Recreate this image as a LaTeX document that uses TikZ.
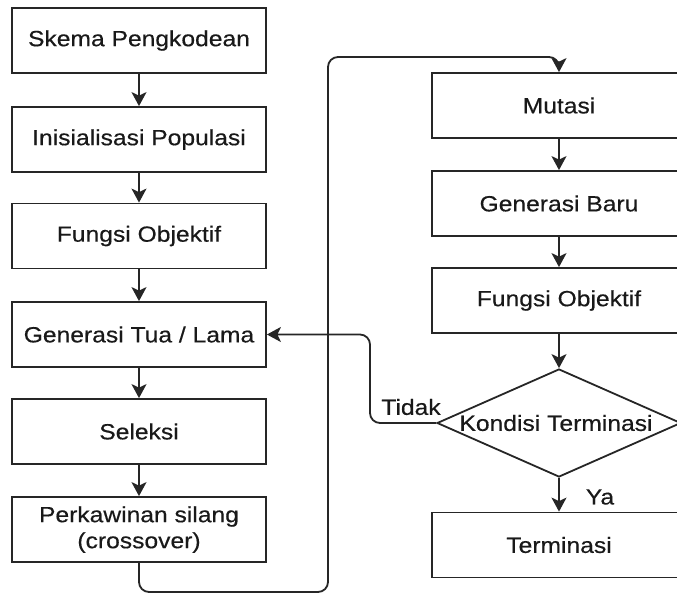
\documentclass[tikz,border=0pt]{standalone}
\usepackage{fontspec}
\setmainfont[FakeStretch=1.12,FakeBold=0.4]{Liberation Sans}
\usetikzlibrary{shapes.geometric,arrows.meta}
\begin{document}
\begin{tikzpicture}[x=1pt,y=-1pt,
  every node/.style={font=\fontsize{22}{26}\selectfont, text=black!90},
  box/.style={draw=black!85, line width=1.8pt, rectangle, minimum width=254pt, minimum height=65pt, inner sep=0pt, align=center, fill=white},
  dia/.style={draw=black!85, line width=1.8pt, diamond, minimum width=244pt, minimum height=108pt, inner sep=0pt, fill=white},
  conn/.style={draw=black!85, line width=1.8pt, -{Stealth[length=14pt,width=15pt,inset=3.5pt]}},
  plain/.style={draw=black!85, line width=1.8pt}]
\useasboundingbox (0,0) rectangle (677,594);
\begin{scope}
\clip (0,0) rectangle (677,594);
% left column
\node[box] (a1) at (139,40.5) {Skema Pengkodean};
\node[box] (a2) at (139,139.5) {Inisialisasi Populasi};
\node[box] (a3) at (139,236) {Fungsi Objektif};
\node[box] (a4) at (139,334.5) {Generasi Tua / Lama};
\node[box] (a5) at (139,431.5) {Seleksi};
\node[box] (a6) at (139,529.5) {Perkawinan silang\\(crossover)};
% right column
\node[box] (b1) at (559,105.5) {Mutasi};
\node[box] (b2) at (559,203.5) {Generasi Baru};
\node[box] (b3) at (559,300.5) {Fungsi Objektif};
\node[dia] (d) at (559,423) {};
\node (dt) at (556,423) {Kondisi Terminasi};
\node[box] (b4) at (559,545) {Terminasi};
% connectors
\draw[conn] (a1.south) -- (a2.north);
\draw[conn] (a2.south) -- (a3.north);
\draw[conn] (a3.south) -- (a4.north);
\draw[conn] (a4.south) -- (a5.north);
\draw[conn] (a5.south) -- (a6.north);
\coordinate (c1) at (328,592);
\coordinate (c2) at (328,57);
\draw[conn, rounded corners=10pt] (a6.south) |- (c1) -- (c2) -| (b1.north);
\draw[conn] (b1.south) -- (b2.north);
\draw[conn] (b2.south) -- (b3.north);
\draw[conn] (b3.south) -- (d.north);
\draw[conn] (d.south) -- (b4.north);
\coordinate (t1) at (370,423);
\draw[conn, rounded corners=10pt] (d.west) -- (t1) |- (a4.east);
\node (tidak) at (411,407) {Tidak};
\node (ya) at (600,497) {Ya};
\end{scope}
\end{tikzpicture}
\end{document}
